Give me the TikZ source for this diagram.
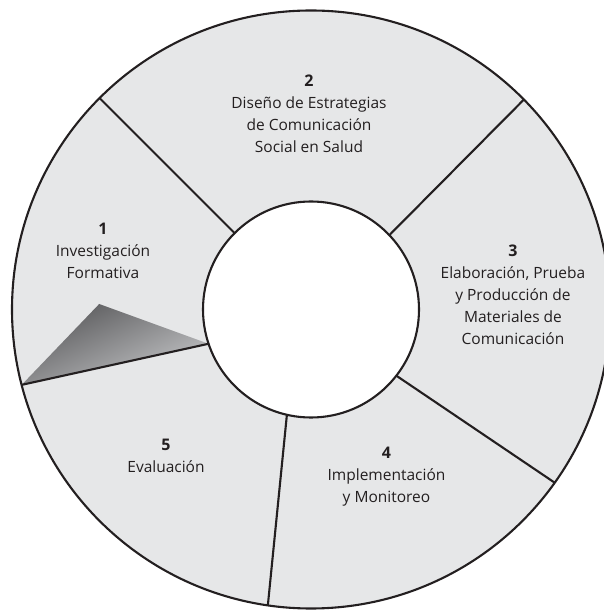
\documentclass[tikz,border=0pt]{standalone}
\usepackage{fontspec}
\usetikzlibrary{calc}
\setmainfont{Open Sans}
\definecolor{ringgray}{HTML}{E6E7E8}
\definecolor{txtcol}{HTML}{231F20}
\definecolor{shadedark}{HTML}{58585A}
\definecolor{shadelight}{HTML}{C6C7C9}
\tikzset{
  ring/.style={line width=2.1pt, draw=txtcol},
  divider/.style={line width=2.1pt, draw=txtcol},
  label/.style={align=center, text=txtcol, font=\fontsize{15.5}{22}\selectfont, inner sep=0pt}
}
\newcommand{\stepnum}[1]{{\bfseries\fontsize{16}{22}\selectfont #1}}
\begin{document}
\begin{tikzpicture}[x=1pt,y=1pt]
\useasboundingbox (0,0) rectangle (603,611);
\coordinate (C) at (311,301.5);
% outer disc
\filldraw[ring, fill=ringgray] (C) circle (299);
% coordinates on the circles
\coordinate (o12) at ($(C)+(135:299)$);
\coordinate (i12) at ($(C)+(135:108)$);
\coordinate (o23) at ($(C)+(44.6:299)$);
\coordinate (i23) at ($(C)+(43.5:108)$);
\coordinate (o34) at ($(C)+(-35.4:299)$);
\coordinate (i34) at ($(C)+(-37.8:108)$);
\coordinate (o45) at ($(C)+(-98.3:299)$);
\coordinate (i45) at ($(C)+(-102.9:108)$);
\coordinate (o51) at ($(C)+(194.6:299)$);
\coordinate (i51) at ($(C)+(198.5:108)$);
\coordinate (apex) at (99.2,307);
% shaded triangle
\shade[top color=shadedark, bottom color=shadelight, shading angle=25]
  (apex) -- (i51) -- (o51) -- cycle;
% dividers
\draw[divider] (i12) -- (o12);
\draw[divider] (i23) -- (o23);
\draw[divider] (i34) -- (o34);
\draw[divider] (i45) -- (o45);
\draw[divider] (i51) -- (o51);
% inner disc
\filldraw[ring, fill=white] (C) circle (108);
% labels
\node[label] (t2) at (309,496.8) {\stepnum{2}\\Diseño de Estrategias\\de Comunicación\\Social en Salud};
\node[label] (t1) at (103,360.6) {\stepnum{1}\\Investigación\\Formativa};
\node[label] (t3) at (513,316.2) {\stepnum{3}\\Elaboración, Prueba\\y Producción de\\Materiales de\\Comunicación};
\node[label] (t5) at (166,155) {\stepnum{5}\\Evaluación};
\node[label] (t4) at (386.5,134.6) {\stepnum{4}\\Implementación\\y Monitoreo};
\end{tikzpicture}
\end{document}
